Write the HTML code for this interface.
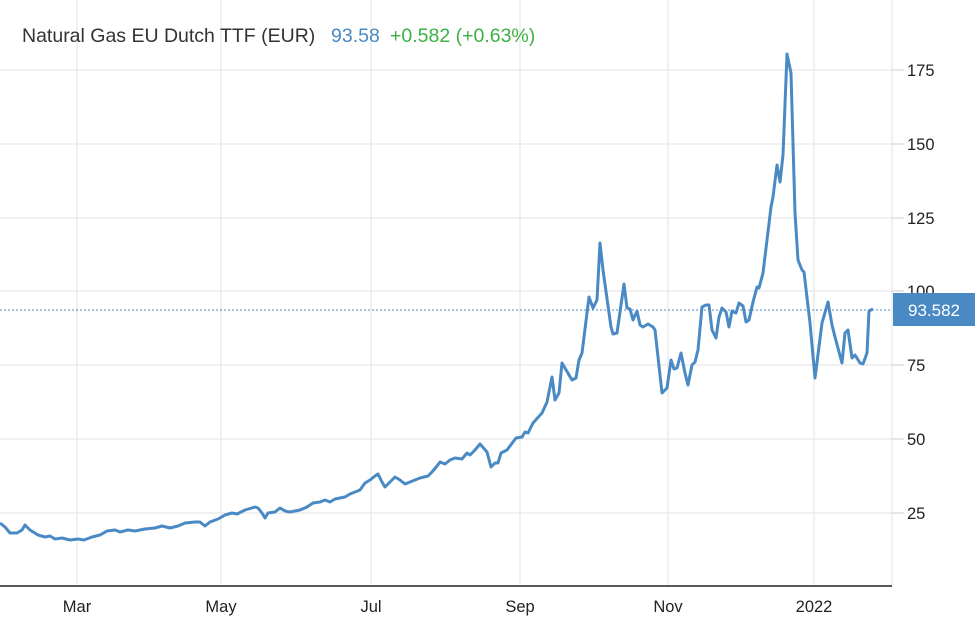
<!DOCTYPE html>
<html><head><meta charset="utf-8"><style>
body{margin:0;background:#fff;width:975px;height:628px;overflow:hidden;font-family:"Liberation Sans",sans-serif}
</style></head><body>
<svg width="975" height="628" xmlns="http://www.w3.org/2000/svg" font-family="Liberation Sans, sans-serif">
<g stroke="#ebebeb" stroke-width="1.5">
<line x1="0" y1="70" x2="892" y2="70"/><line x1="0" y1="144" x2="892" y2="144"/><line x1="0" y1="218" x2="892" y2="218"/><line x1="0" y1="291" x2="892" y2="291"/><line x1="0" y1="365" x2="892" y2="365"/><line x1="0" y1="439" x2="892" y2="439"/><line x1="0" y1="513" x2="892" y2="513"/>
<line x1="77" y1="0" x2="77" y2="585"/><line x1="221" y1="0" x2="221" y2="585"/><line x1="371" y1="0" x2="371" y2="585"/><line x1="520" y1="0" x2="520" y2="585"/><line x1="668" y1="0" x2="668" y2="585"/><line x1="814" y1="0" x2="814" y2="585"/>
<line x1="892" y1="0" x2="892" y2="587"/>
</g>
<g stroke="#ccc" stroke-width="1"><line x1="892" y1="70" x2="904" y2="70"/><line x1="892" y1="144" x2="904" y2="144"/><line x1="892" y1="218" x2="904" y2="218"/><line x1="892" y1="291" x2="904" y2="291"/><line x1="892" y1="365" x2="904" y2="365"/><line x1="892" y1="439" x2="904" y2="439"/><line x1="892" y1="513" x2="904" y2="513"/></g>
<line x1="0" y1="586" x2="892" y2="586" stroke="#222" stroke-width="1.5"/>
<line x1="0" y1="310" x2="892" y2="310" stroke="#4a8ac4" stroke-width="1" stroke-dasharray="2,2"/>
<g font-size="16.5" fill="#222">
<text x="907" y="76">175</text><text x="907" y="150">150</text><text x="907" y="224">125</text><text x="907" y="297">100</text><text x="907" y="371">75</text><text x="907" y="445">50</text><text x="907" y="519">25</text>
</g>
<g font-size="16.5" fill="#222" text-anchor="middle">
<text x="77" y="612">Mar</text><text x="221" y="612">May</text><text x="371" y="612">Jul</text><text x="520" y="612">Sep</text><text x="668" y="612">Nov</text><text x="814" y="612">2022</text>
</g>
<rect x="893" y="293" width="82" height="33" fill="#4a8ac4"/>
<text x="934" y="316" font-size="17" fill="#fff" text-anchor="middle">93.582</text>
<polyline fill="none" stroke="#4a8ac4" stroke-width="3" stroke-linejoin="round" points="0,523 5,527 10,533 17,533 22,530 25,525 30,530 38,535 45,537 50,536 55,539 62,538 70,540 78,539 84,540 92,537 100,535 107,531 115,530 120,532 128,530 135,531 145,529 155,528 162,526 170,528 178,526 185,523 195,522 200,522 205,526 210,522 218,519 225,515 232,513 237,514 245,510 255,507 258,508 262,513 265,518 268,513 275,512 280,508 285,511 290,512 300,510 307,507 313,503 320,502 325,500 330,502 335,499 345,497 350,494 355,492 360,490 365,483 370,480 375,476 378,474 382,482 385,487 390,482 395,477 400,480 405,484 410,482 415,480 420,478 428,476 432,472 437,466 440,462 445,464 450,460 455,458 462,459 467,453 470,455 475,450 480,444 487,452 491,467 495,463 498,463 501,453 507,450 516,438 522,437 525,432 528,433 533,423 542,413 547,402 552,377 555,400 559,393 562,363 572,380 576,378 579,360 582,353 589,297 593,308 597,300 600,243 603,270 611,327 613,334 617,333 624,284 627,308 630,309 633,320 637,311 640,325 643,327 648,324 653,327 655,330 662,393 667,388 671,360 674,369 677,368 681,353 685,373 688,385 692,365 695,362 698,350 702,307 706,305 709,305 712,330 716,338 719,317 722,308 726,312 729,327 732,311 736,313 739,303 743,306 746,322 749,320 753,302 757,287 759,288 763,273 767,240 771,207 773,197 777,165 780,182 783,155 787,54 791,73 795,213 798,260 802,270 804,272 810,323 815,378 822,323 828,302 832,325 835,337 842,363 845,333 848,330 852,358 855,355 860,363 863,364 867,353 869,311 873,309"/>
<text x="22" y="42" font-size="19.5" fill="#333">Natural Gas EU Dutch TTF (EUR)</text>
<text x="331" y="42" font-size="19.5" fill="#4a8ac4">93.58</text>
<text x="390" y="42" font-size="19.5" fill="#3cb043">+0.582 (+0.63%)</text>
</svg>
</body></html>
